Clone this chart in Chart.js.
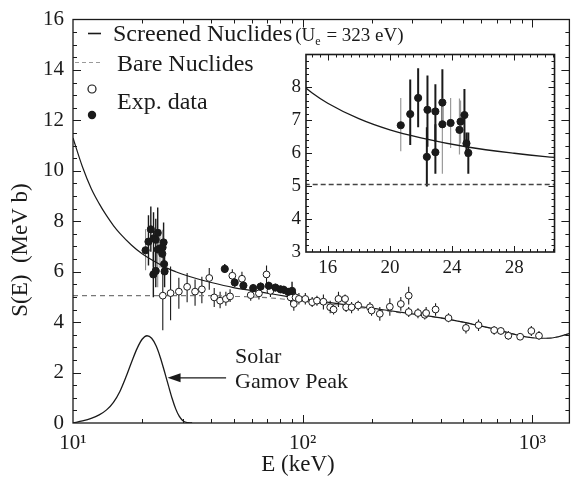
<!DOCTYPE html>
<html>
<head>
<meta charset="utf-8">
<script src="https://cdn.jsdelivr.net/npm/chart.js@4.4.1/dist/chart.umd.min.js"></script>
<style>
  html, body { margin: 0; padding: 0; background: #fff; }
  #wrap { position: relative; width: 574px; height: 484px; overflow: hidden; }
  #main { position: absolute; left: 0; top: 0; }
  #inset { position: absolute; left: 256px; top: 40px; }
</style>
</head>
<body>
<div id="wrap">
  <canvas id="main" width="574" height="484"></canvas>
  <canvas id="inset" width="304" height="240"></canvas>
</div>
<script>
// ---- S-factor curves (E in keV, S in MeV b) ----
const curveE    = [10, 11, 12, 13, 14, 15, 16, 18, 20, 22, 25, 28, 30, 35, 40, 50, 60, 70, 85, 100, 130, 170, 220, 300, 400, 500, 600, 700, 850, 1000, 1150, 1300, 1450];
const screenedS = [11.3, 10.15, 9.3, 8.7, 8.22, 7.83, 7.52, 7.05, 6.71, 6.47, 6.19, 6.0, 5.9, 5.71, 5.57, 5.37, 5.25, 5.15, 5.02, 4.92, 4.78, 4.64, 4.5, 4.33, 4.17, 4.0, 3.84, 3.7, 3.5, 3.38, 3.36, 3.42, 3.55];
const bareS     = [5.05, 5.05, 5.05, 5.05, 5.05, 5.05, 5.05, 5.05, 5.05, 5.05, 5.05, 5.05, 5.05, 5.05, 5.05, 5.02, 5.0, 4.97, 4.9, 4.83, 4.72, 4.6, 4.47, 4.31, 4.16, 4.0, 3.84, 3.7, 3.5, 3.38, 3.36, 3.42, 3.55];

// ---- Solar Gamow peak (arbitrary units on the S axis) ----
const gamowE = [10, 11, 12, 13, 14, 15, 16, 17, 18, 19, 20, 21, 22, 23, 24, 25, 26, 27, 28, 29, 30, 31, 33];
const gamowS = [0, 0.08, 0.18, 0.32, 0.52, 0.82, 1.25, 1.82, 2.42, 2.95, 3.32, 3.46, 3.36, 3.06, 2.6, 2.05, 1.5, 0.98, 0.56, 0.27, 0.1, 0.03, 0];

// ---- Experimental data: filled symbols ----
const filledE  = [21.31, 21.82, 22.42, 22.38, 22.93, 22.93, 23.38, 24.80, 24.93, 25.05, 45.8, 50.6, 55.2, 60.9, 65.6, 71.2, 76.1, 80.1, 82.8, 86.5, 89.9];
const filledS  = [7.19, 7.68, 7.32, 5.89, 7.27, 6.03, 7.54, 7.16, 6.30, 6.01, 6.11, 5.57, 5.45, 5.35, 5.41, 5.44, 5.37, 5.30, 5.28, 5.20, 5.24];
const filledLo = [6.25, 6.79, 6.20, 4.99, 6.35, 5.38, 6.88, 6.35, 5.90, 5.38, 5.95, 5.40, 5.30, 5.20, 5.25, 5.30, 5.22, 5.15, 5.12, 5.05, 5.05];
const filledHi = [8.24, 8.58, 8.36, 6.79, 8.10, 6.88, 8.55, 7.95, 6.63, 6.63, 6.30, 5.75, 5.60, 5.50, 5.57, 5.60, 5.52, 5.45, 5.44, 5.35, 5.60];

// filled symbols from the second low-energy run
const runE  = [20.70, 23.38, 23.91, 24.48, 24.55];
const runS  = [6.85, 6.88, 6.92, 6.71, 6.96];
const runLo = [6.06, 5.38, 6.16, 5.96, 6.30];
const runHi = [7.68, 7.66, 7.68, 7.66, 7.60];

// ---- Experimental data: open symbols ----
const openE  = [24.6, 26.6, 28.9, 31.4, 34.0, 36.4, 39.2, 41.2, 43.7, 46.3, 48.3, 49.4, 54.4, 59.4, 64.5, 69.6, 72.4, 88.6, 91.5, 93.1, 96.3, 102.7, 110, 115.4, 123.1, 131.8, 136.3, 143.2, 153, 154.6, 163.3, 174.5, 196.3, 199.5, 216.7, 239.6, 267.5, 289.5, 289.5, 317.7, 340, 344.8, 379, 431.5, 514, 583, 682, 729, 786, 885, 990, 1069];
const openS  = [5.05, 5.15, 5.21, 5.40, 5.21, 5.30, 5.75, 4.98, 4.85, 4.92, 5.02, 5.84, 5.72, 5.07, 5.14, 5.89, 5.24, 4.98, 4.72, 4.98, 4.92, 4.92, 4.79, 4.85, 4.81, 4.59, 4.50, 4.92, 4.92, 4.59, 4.59, 4.66, 4.59, 4.46, 4.33, 4.61, 4.72, 5.05, 4.40, 4.36, 4.29, 4.36, 4.50, 4.16, 3.77, 3.88, 3.68, 3.65, 3.46, 3.42, 3.65, 3.46];
const openLo = [3.68, 4.07, 4.53, 4.79, 4.65, 4.75, 5.28, 4.60, 4.55, 4.65, 4.80, 5.50, 5.45, 4.85, 4.90, 5.45, 5.00, 4.75, 4.45, 4.80, 4.70, 4.70, 4.60, 4.65, 4.50, 4.35, 4.30, 4.60, 4.70, 4.40, 4.35, 4.45, 4.40, 4.25, 4.05, 4.25, 4.45, 4.70, 4.20, 4.15, 4.10, 4.15, 4.25, 4.00, 3.55, 3.65, 3.50, 3.50, 3.30, 3.30, 3.45, 3.30];
const openHi = [6.08, 6.21, 5.76, 5.95, 5.69, 5.80, 6.15, 5.35, 5.20, 5.20, 5.30, 6.10, 6.00, 5.30, 5.40, 6.25, 5.50, 5.20, 5.00, 5.20, 5.15, 5.15, 5.00, 5.05, 5.10, 4.85, 4.70, 5.20, 5.10, 4.80, 4.80, 4.85, 4.80, 4.65, 4.60, 4.95, 5.00, 5.40, 4.60, 4.55, 4.50, 4.60, 4.75, 4.35, 4.00, 4.10, 3.85, 3.80, 3.65, 3.55, 3.85, 3.65];

// ---- Axis ticks ----
const mainYLabels = [0, 2, 4, 6, 8, 10, 12, 14, 16];
const mainXLabels = { 10: '10\u00B9', 100: '10\u00B2', 1000: '10\u00B3' };
const insetXLabels = [16, 20, 24, 28];
const insetYLabels = [3, 4, 5, 6, 7, 8];

// Gamow-peak pointer (data coordinates: tail, tip)
const gamowArrow = { tail: [46.4, 1.79], tip: [25.8, 1.79] };

const SERIF = "'Liberation Serif', 'Times New Roman', serif";
const INK = '#1a1a1a';

const pts = (xs, ys) => xs.map((x, i) => ({ x, y: ys[i] }));

// Vertical error bars, drawn beneath the symbols
const errorBars = {
  id: 'errorBars',
  beforeDatasetsDraw(chart) {
    const { ctx, chartArea: a, scales: { x, y } } = chart;
    ctx.save();
    ctx.beginPath();
    ctx.rect(a.left, a.top, a.right - a.left, a.bottom - a.top);
    ctx.clip();
    chart.data.datasets.forEach(ds => {
      if (!ds.errLo) return;
      ctx.strokeStyle = ds.errColor;
      ctx.lineWidth = ds.errWidth;
      ds.data.forEach((p, i) => {
        const px = x.getPixelForValue(p.x);
        ctx.beginPath();
        ctx.moveTo(px, y.getPixelForValue(ds.errLo[i]));
        ctx.lineTo(px, y.getPixelForValue(ds.errHi[i]));
        ctx.stroke();
      });
    });
    ctx.restore();
  }
};

// Box frame with inward ticks on all four sides
const frameTicks = {
  id: 'frameTicks',
  afterDraw(chart, args, opts) {
    const { ctx, chartArea: a, scales: { x, y } } = chart;
    ctx.save();
    ctx.strokeStyle = INK;
    ctx.lineWidth = opts.frameWidth;
    ctx.strokeRect(a.left, a.top, a.right - a.left, a.bottom - a.top);
    ctx.lineWidth = 1;
    const seg = (x1, y1, x2, y2) => { ctx.beginPath(); ctx.moveTo(x1, y1); ctx.lineTo(x2, y2); ctx.stroke(); };
    x.ticks.forEach(t => {
      const px = Math.round(x.getPixelForValue(t.value)) + 0.5;
      if (px <= a.left + 1 || px >= a.right - 1) return;
      const len = t.label !== '' ? opts.major : opts.minor;
      seg(px, a.bottom, px, a.bottom - len);
      seg(px, a.top, px, a.top + len);
    });
    y.ticks.forEach(t => {
      const py = Math.round(y.getPixelForValue(t.value)) + 0.5;
      if (py <= a.top + 1 || py >= a.bottom - 1) return;
      const len = t.label !== '' ? opts.major : opts.minor;
      seg(a.left, py, a.left + len, py);
      seg(a.right, py, a.right - len, py);
    });
    ctx.restore();
  }
};

// Axis titles, legend and the Gamow-peak annotation of the main panel
const mainDecor = {
  id: 'mainDecor',
  afterDraw(chart) {
    const { ctx, scales: { x, y } } = chart;
    ctx.save();
    ctx.fillStyle = INK;
    ctx.strokeStyle = INK;

    // axis titles
    ctx.font = '23px ' + SERIF;
    ctx.textAlign = 'center';
    ctx.textBaseline = 'middle';
    ctx.fillText('E (keV)', 298, 465);
    ctx.save();
    ctx.translate(21, 250);
    ctx.rotate(-Math.PI / 2);
    ctx.fillText('S(E)  (MeV b)', 0, 0);
    ctx.restore();

    // legend
    ctx.textAlign = 'left';
    ctx.textBaseline = 'alphabetic';
    ctx.lineWidth = 1.6;
    ctx.beginPath(); ctx.moveTo(88, 33.5); ctx.lineTo(101, 33.5); ctx.stroke();
    ctx.font = '24px ' + SERIF;
    ctx.fillText('Screened Nuclides', 113, 41);
    let cx = 113 + ctx.measureText('Screened Nuclides').width + 3;
    ctx.font = '19px ' + SERIF;
    ctx.fillText('(U', cx, 41);
    cx += ctx.measureText('(U').width;
    ctx.font = '12px ' + SERIF;
    ctx.fillText('e', cx, 45);
    cx += ctx.measureText('e').width + 1;
    ctx.font = '19px ' + SERIF;
    ctx.fillText(' = 323 eV)', cx, 41);

    ctx.save();
    ctx.strokeStyle = '#9a9a9a';
    ctx.lineWidth = 1.2;
    ctx.setLineDash([4, 3]);
    ctx.beginPath(); ctx.moveTo(75, 62.5); ctx.lineTo(102, 62.5); ctx.stroke();
    ctx.restore();
    ctx.font = '24px ' + SERIF;
    ctx.fillText('Bare Nuclides', 117, 71);

    ctx.lineWidth = 1.2;
    ctx.beginPath(); ctx.arc(92, 89, 4, 0, Math.PI * 2);
    ctx.fillStyle = '#fff'; ctx.fill(); ctx.stroke();
    ctx.fillStyle = INK;
    ctx.beginPath(); ctx.arc(92, 115, 4.2, 0, Math.PI * 2); ctx.fill();
    ctx.fillText('Exp. data', 117, 109);

    // Gamow peak label and pointer
    ctx.font = '22px ' + SERIF;
    ctx.fillText('Solar', 235, 363);
    ctx.fillText('Gamov Peak', 235, 388);
    const tx = x.getPixelForValue(gamowArrow.tail[0]);
    const ty = y.getPixelForValue(gamowArrow.tail[1]);
    const hx = x.getPixelForValue(gamowArrow.tip[0]);
    const hy = y.getPixelForValue(gamowArrow.tip[1]);
    ctx.lineWidth = 1.4;
    ctx.beginPath(); ctx.moveTo(tx, ty); ctx.lineTo(hx + 10, hy); ctx.stroke();
    ctx.beginPath();
    ctx.moveTo(hx, hy);
    ctx.lineTo(hx + 13, hy - 4.5);
    ctx.lineTo(hx + 13, hy + 4.5);
    ctx.closePath();
    ctx.fill();
    ctx.restore();
  }
};

const lineDs = (data, color, width, dash) => ({
  data, showLine: true, borderColor: color, borderWidth: width, borderDash: dash || [],
  pointRadius: 0, cubicInterpolationMode: 'monotone', fill: false
});

const symbolDs = (data, lo, hi, fillColor, barColor, barWidth, r) => ({
  data, showLine: false, pointRadius: r, pointHoverRadius: r,
  pointBackgroundColor: fillColor, pointBorderColor: INK, pointBorderWidth: 1,
  errLo: lo, errHi: hi, errColor: barColor, errWidth: barWidth
});

const tickFont = (size) => ({ family: SERIF, size, lineHeight: 1 });

// ---- main panel ----
new Chart(document.getElementById('main'), {
  type: 'scatter',
  data: {
    datasets: [
      symbolDs(pts(filledE, filledS), filledLo, filledHi, INK, INK, 1.4, 3.6),
      symbolDs(pts(runE, runS), runLo, runHi, INK, '#8c8c8c', 1.1, 3.6),
      symbolDs(pts(openE, openS), openLo, openHi, '#fff', INK, 1.1, 3.4),
      lineDs(pts(curveE, screenedS), INK, 1.2),
      lineDs(pts(curveE, bareS), '#777', 1.1, [5, 4]),
      lineDs(pts(gamowE, gamowS), INK, 1.3)
    ]
  },
  options: {
    responsive: false, animation: false, devicePixelRatio: 1,
    layout: { padding: { left: 0, right: 2, top: 12, bottom: 0 } },
    plugins: { legend: { display: false }, tooltip: { enabled: false }, frameTicks: { major: 8, minor: 4, frameWidth: 1.3 } },
    scales: {
      x: {
        type: 'logarithmic', min: 10, max: 1450,
        grid: { display: false, drawTicks: false }, border: { display: false },
        afterBuildTicks(axis) {
          const t = [];
          [10, 100, 1000].forEach(d => { for (let k = 1; k <= 9; k++) { const v = d * k; if (v <= 1450) t.push({ value: v }); } });
          axis.ticks = t;
        },
        ticks: {
          autoSkip: false, maxRotation: 0, padding: 10, color: INK, font: tickFont(21),
          callback: (v) => mainXLabels[v] || ''
        },
        afterFit(s) { s.height = 61; }
      },
      y: {
        type: 'linear', min: 0, max: 16,
        grid: { display: false, drawTicks: false }, border: { display: false },
        afterBuildTicks(axis) {
          const t = [];
          for (let i = 0; i <= 32; i++) t.push({ value: i / 2 });
          axis.ticks = t;
        },
        ticks: {
          autoSkip: false, padding: 9, color: INK, font: tickFont(21),
          callback: (v) => mainYLabels.includes(v) ? String(v) : ''
        },
        afterFit(s) { s.width = 73; }
      }
    }
  },
  plugins: [errorBars, frameTicks, mainDecor]
});

// ---- inset: low-energy region on linear axes ----
new Chart(document.getElementById('inset'), {
  type: 'scatter',
  data: {
    datasets: [
      symbolDs(pts(filledE, filledS), filledLo, filledHi, INK, INK, 2, 3.6),
      symbolDs(pts(runE, runS), runLo, runHi, INK, '#9a9a9a', 1.2, 3.6),
      lineDs(pts(curveE, screenedS), INK, 1.3),
      lineDs(pts(curveE, bareS), '#444', 1.3, [5, 3])
    ]
  },
  options: {
    responsive: false, animation: false, devicePixelRatio: 1,
    layout: { padding: { left: 0, right: 3, top: 5, bottom: 0 } },
    plugins: { legend: { display: false }, tooltip: { enabled: false }, frameTicks: { major: 6, minor: 3, frameWidth: 1.6 } },
    scales: {
      x: {
        type: 'linear', min: 14.6, max: 30.6,
        grid: { display: false, drawTicks: false }, border: { display: false },
        afterBuildTicks(axis) {
          const t = [];
          for (let v = 15; v <= 30.5; v += 0.5) t.push({ value: v });
          axis.ticks = t;
        },
        ticks: {
          autoSkip: false, maxRotation: 0, padding: 7, color: INK, font: tickFont(19),
          callback: (v) => insetXLabels.includes(v) ? String(v) : ''
        },
        afterFit(s) { s.height = 28; }
      },
      y: {
        type: 'linear', min: 3, max: 9,
        grid: { display: false, drawTicks: false }, border: { display: false },
        afterBuildTicks(axis) {
          const t = [];
          for (let i = 0; i <= 30; i++) t.push({ value: Math.round((3 + i * 0.2) * 10) / 10 });
          axis.ticks = t;
        },
        ticks: {
          autoSkip: false, padding: 5, color: INK, font: tickFont(19),
          callback: (v) => insetYLabels.includes(v) ? String(v) : ''
        },
        afterFit(s) { s.width = 50; }
      }
    }
  },
  plugins: [errorBars, frameTicks]
});
</script>
</body>
</html>
